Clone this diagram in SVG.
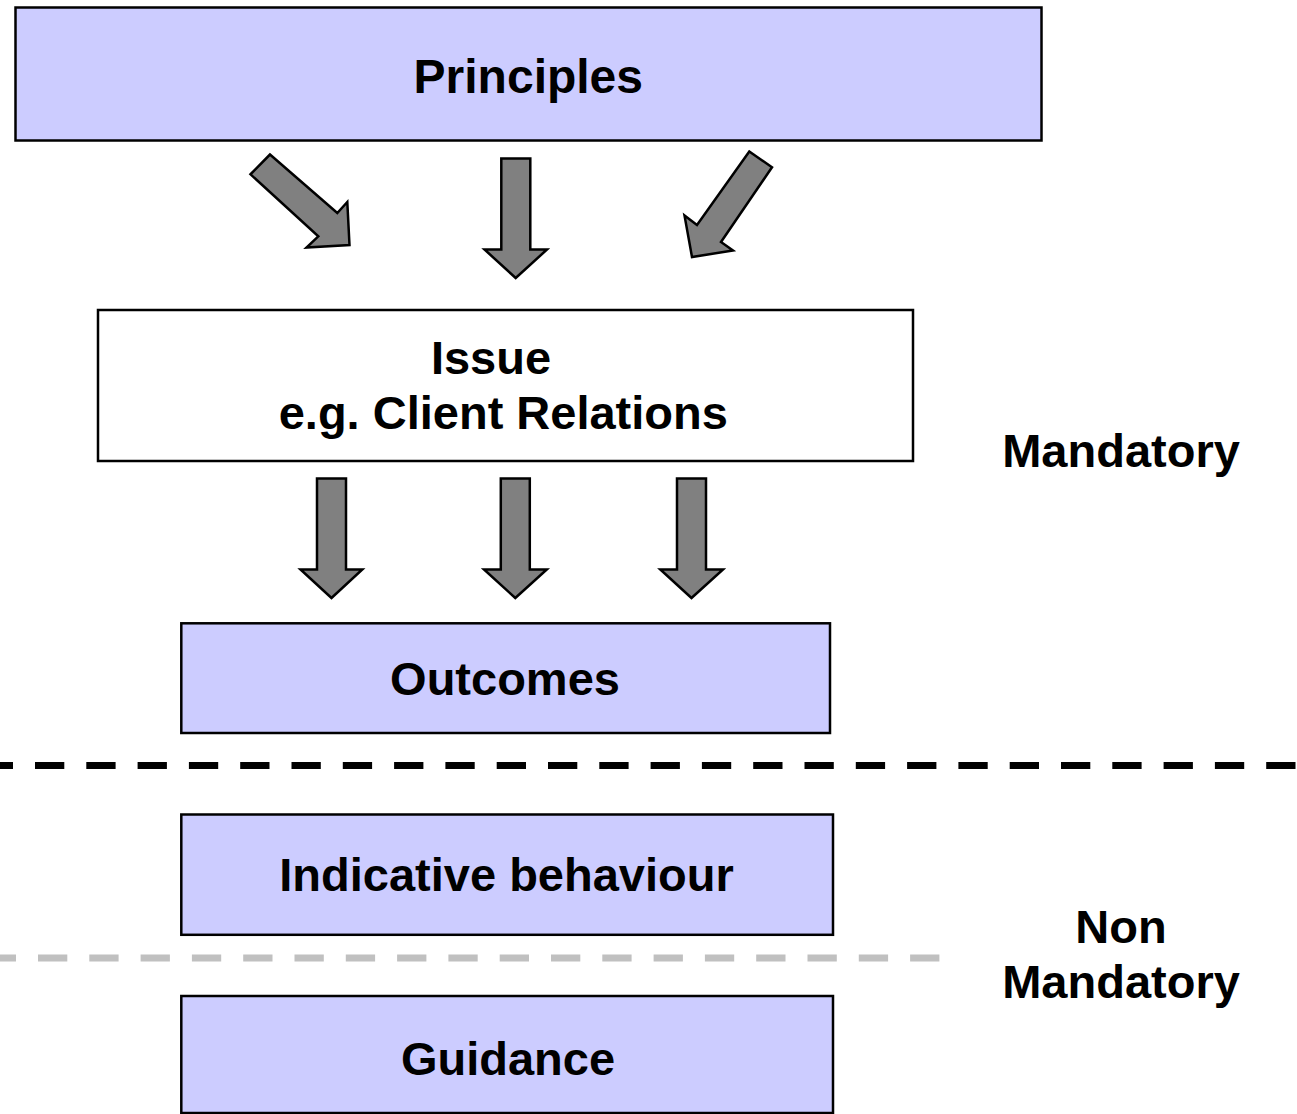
<svg xmlns="http://www.w3.org/2000/svg" width="1297" height="1114" viewBox="0 0 1297 1114">
<style>
.box{fill:#CCCCFF;stroke:#000;stroke-width:2.5}
.wbox{fill:#FFFFFF;stroke:#000;stroke-width:2.5}
.lbl{font-family:"Liberation Sans",Arial,Helvetica,sans-serif;font-weight:bold;font-size:47px;fill:#000;text-anchor:middle}
.arr{fill:#808080;stroke:#000;stroke-width:2.5;stroke-linejoin:miter}
.sep{fill:none;stroke-width:7;stroke-dasharray:29.3 22}
</style>
<rect width="1297" height="1114" fill="#FFFFFF"/>
<g id="separators">
<line class="sep" x1="0" y1="765.5" x2="1297" y2="765.5" stroke="#000" stroke-dashoffset="16.3"/>
<line class="sep" x1="0" y1="958" x2="940" y2="958" stroke="#C0C0C0" stroke-dashoffset="13.3"/>
</g>
<g id="principles">
<rect class="box" x="15.5" y="7.5" width="1026" height="133"/>
<text class="lbl" x="528.3" y="92.7" style="font-size:48px">Principles</text>
</g>
<g id="issue">
<rect class="wbox" x="98" y="310" width="815" height="151"/>
<text class="lbl" x="491" y="374">Issue</text>
<text class="lbl" x="503.3" y="429">e.g. Client Relations</text>
</g>
<g id="outcomes">
<rect class="box" x="181.3" y="623.3" width="648.7" height="109.7"/>
<text class="lbl" x="505" y="695">Outcomes</text>
</g>
<g id="indicative">
<rect class="box" x="181.3" y="814.5" width="651.7" height="120.3"/>
<text class="lbl" x="506.5" y="891">Indicative behaviour</text>
</g>
<g id="guidance">
<rect class="box" x="181.3" y="996" width="651.7" height="117"/>
<text class="lbl" x="508" y="1075">Guidance</text>
</g>
<g id="label-mandatory">
<text class="lbl" x="1121" y="466.7">Mandatory</text>
</g>
<g id="label-nonmandatory">
<text class="lbl" x="1121" y="943.3">Non</text>
<text class="lbl" x="1121" y="998.3">Mandatory</text>
</g>
<g id="connectors">
<polygon class="arr" points="270,154.5 250.5,174.3 318.3,236.3 306.5,247.5 349.5,245 347.3,202 337.3,213"/>
<polygon class="arr" points="501.3,158.5 530.3,158.5 530.3,249.5 547,249.5 515.7,278 484.5,249.5 501.3,249.5"/>
<polygon class="arr" points="749.3,151.5 772,167.3 721,242 733,250.5 692,257 684.5,215.5 697,225"/>
<polygon class="arr" points="317,478.5 346,478.5 346,569.5 362.3,569.5 331.5,598 300.5,569.5 317,569.5"/>
<polygon class="arr" points="500.8,478.5 529.8,478.5 529.8,569.5 546.8,569.5 515.3,598 484,569.5 500.8,569.5"/>
<polygon class="arr" points="677,478.5 706,478.5 706,569.5 723,569.5 691.5,598 660.3,569.5 677,569.5"/>
</g>
</svg>
